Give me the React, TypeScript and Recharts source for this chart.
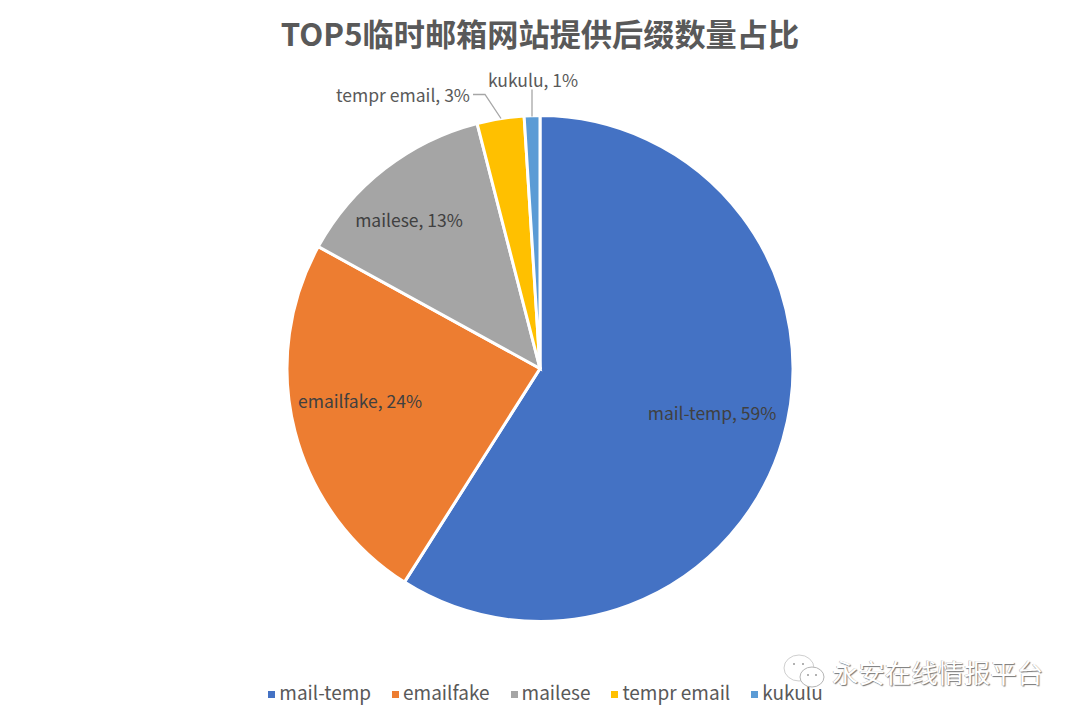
import { PieChart, Pie, Cell, Legend } from "recharts";

const names = ["mail-temp", "emailfake", "mailese", "tempr email", "kukulu"];
const shares = [59, 24, 13, 3, 1];
const colors = ["#4472C4", "#ED7D31", "#A5A5A5", "#FFC000", "#5B9BD5"];

const chartData = names.map((name, i) => ({ name, value: shares[i] }));

const FONT = '"Noto Sans CJK SC", "Noto Sans", sans-serif';

// label anchors relative to the pie centre, hand placed like the original
const labelSpots: Record<string, { dx: number; dy: number; color: string; line?: string }> = {
  "mail-temp": { dx: 172, dy: 44, color: "#404040" },
  emailfake: { dx: -180, dy: 32, color: "#404040" },
  mailese: { dx: -131, dy: -149, color: "#404040" },
  "tempr email": { dx: -137, dy: -274, color: "#595959", line: "M -67 -274 L -55 -274 L -39 -250" },
  kukulu: { dx: -7, dy: -289, color: "#595959", line: "M -8 -279 L -8 -252" },
};

const renderLabel = (props: any) => {
  const spot = labelSpots[props.name];
  return (
    <g>
      {spot.line && (
        <path
          d={spot.line}
          transform={`translate(${props.cx} ${props.cy})`}
          fill="none"
          stroke="#A6A6A6"
          strokeWidth={1.3}
        />
      )}
      <text
        x={props.cx + spot.dx}
        y={props.cy + spot.dy}
        textAnchor="middle"
        dominantBaseline="central"
        fontFamily={FONT}
        fontSize={17.5}
        fill={spot.color}
      >
        {`${props.name}, ${props.value}%`}
      </text>
    </g>
  );
};

const App = () => {
  return (
    <div style={{ position: "absolute", left: 0, top: 0, width: 1080, height: 720, background: "#fff", overflow: "hidden" }}>
      <div
        style={{
          position: "absolute",
          top: 10,
          width: 1080,
          textAlign: "center",
          fontFamily: FONT,
          fontWeight: 700,
          fontSize: 31.2,
          lineHeight: "46px",
          color: "#595959",
        }}
      >
        TOP5临时邮箱网站提供后缀数量占比
      </div>
      <PieChart width={1080} height={720} margin={{ top: 0, right: 0, bottom: 0, left: 0 }}>
        <Pie
          data={chartData}
          dataKey="value"
          nameKey="name"
          cx={540}
          cy={368.5}
          outerRadius={253}
          startAngle={90}
          endAngle={-270}
          stroke="#fff"
          strokeWidth={3}
          label={renderLabel}
          labelLine={false}
          isAnimationActive={false}
        >
          {chartData.map((entry, i) => (
            <Cell key={entry.name} fill={colors[i]} />
          ))}
        </Pie>
        <Legend
          verticalAlign="bottom"
          iconType="square"
          iconSize={7}
          itemSorter={null}
          wrapperStyle={{ fontFamily: FONT, fontSize: 19, bottom: 15, left: 16 }}
          formatter={(value: string) => <span style={{ color: "#595959", marginRight: 11 }}>{value}</span>}
        />
      </PieChart>
      <svg width={50} height={50} style={{ position: "absolute", left: 780, top: 650 }}>
        <ellipse cx={19} cy={18} rx={15} ry={13} fill="#fff" stroke="#cfcfcf" strokeWidth={1} />
        <ellipse cx={32} cy={27} rx={12} ry={10} fill="#fff" stroke="#b5b5b5" strokeWidth={1} />
        <circle cx={14} cy={14} r={1} fill="#999" />
        <circle cx={23} cy={14} r={1} fill="#999" />
        <circle cx={28} cy={25} r={1} fill="#999" />
        <circle cx={36} cy={25} r={1} fill="#999" />
      </svg>
      <div
        style={{
          position: "absolute",
          left: 832,
          top: 653,
          fontFamily: FONT,
          fontSize: 26.4,
          lineHeight: "38px",
          color: "#fff",
          textShadow: "1px 1px 1px #777, -0.5px -0.5px 0.5px #aaa",
          whiteSpace: "nowrap",
        }}
      >
        永安在线情报平台
      </div>
    </div>
  );
};

export default App;
